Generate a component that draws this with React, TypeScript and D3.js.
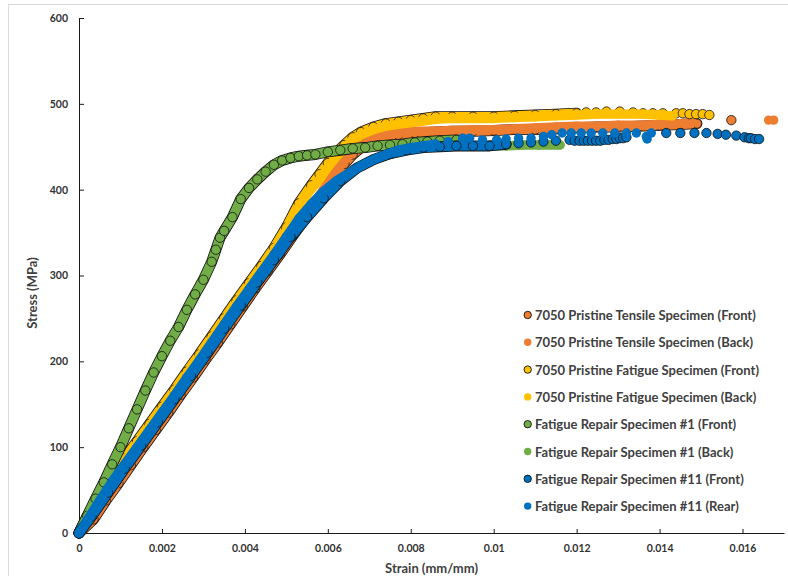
import React, { useRef, useEffect } from "react"
import * as d3 from "d3"

type Pt = [number, number]

// strain (mm/mm), stress (MPa)
const tensileFront: Pt[] = [[0,0],[0.00035,16],[0.00065,38],[0.00095,58],[0.00125,79],[0.00155,100],[0.00185,120],[0.00215,140],[0.00245,161],[0.00275,181],[0.00305,202],[0.00335,222],[0.00365,243],[0.00395,264],[0.00425,285],[0.00455,305],[0.00485,325],[0.00515,346],[0.00545,366],[0.00575,386],[0.006,404],[0.0062,418],[0.0064,430],[0.0066,441],[0.0068,449],[0.007,455],[0.0073,461],[0.0077,464],[0.0081,466],[0.0085,467],[0.009,468],[0.0095,468],[0.01,469],[0.0105,470],[0.011,470],[0.0115,471],[0.012,472],[0.0125,473],[0.013,473],[0.0135,474],[0.014,475],[0.0145,476],[0.0149,477]]
const tensileFrontDots: Pt[] = [[0.01573,481]]

const tensileBack: Pt[] = [[0,0],[0.0003,17],[0.0006,38],[0.0009,58],[0.0012,79],[0.0015,100],[0.0018,120],[0.0021,140],[0.0024,161],[0.0027,181],[0.003,202],[0.0033,222],[0.0036,243],[0.0039,264],[0.0042,285],[0.0045,305],[0.0048,325],[0.0051,346],[0.0054,366],[0.0057,386],[0.006,408],[0.0062,422],[0.0064,434],[0.0066,445],[0.0068,452],[0.007,458],[0.0073,463],[0.0077,466],[0.0081,468],[0.0085,468],[0.009,469],[0.0095,470],[0.01,470],[0.0105,471],[0.011,472],[0.0115,473],[0.012,474],[0.0125,474],[0.013,475],[0.0135,475],[0.014,476],[0.0145,477],[0.0148,478]]
const tensileBackDots: Pt[] = [[0.01663,481],[0.01675,481]]

const fatigueFront: Pt[] = [[0,0],[0.0002,20],[0.0005,44],[0.0008,66],[0.0011,87],[0.0014,107],[0.0017,127],[0.002,147],[0.0023,167],[0.0026,188],[0.0029,208],[0.0032,229],[0.0035,250],[0.0038,271],[0.0041,291],[0.0044,311],[0.0047,332],[0.005,356],[0.0053,384],[0.0056,405],[0.0058,418],[0.006,431],[0.0062,443],[0.0064,452],[0.0066,461],[0.0068,467],[0.0071,473],[0.0074,477],[0.0077,479],[0.008,481],[0.0083,483],[0.0086,485],[0.009,485],[0.0095,485],[0.01,485],[0.0105,486],[0.011,487],[0.0115,488],[0.012,489]]
const fatigueFrontDots: Pt[] = [[0.01223,490],[0.01247,490],[0.01272,491],[0.01304,491],[0.01336,490],[0.0136,489],[0.01384,489],[0.01408,489],[0.0144,489],[0.01456,489],[0.01472,488],[0.01488,488],[0.01504,488],[0.0152,487]]

const fatigueBack: Pt[] = [[0,0],[0.0002,18],[0.0005,42],[0.0008,64],[0.0011,84],[0.0014,104],[0.0017,124],[0.002,144],[0.0023,164],[0.0026,185],[0.0029,205],[0.0032,226],[0.0035,247],[0.0038,268],[0.0041,288],[0.0044,308],[0.0047,328],[0.005,352],[0.0053,380],[0.0056,401],[0.0058,412],[0.006,426],[0.0062,438],[0.0064,449],[0.0066,458],[0.0068,464],[0.0071,470],[0.0074,474],[0.0077,476],[0.008,478],[0.0083,480],[0.0086,482],[0.009,483],[0.0095,483],[0.01,483],[0.0105,484],[0.011,485],[0.0115,486],[0.012,487],[0.0125,488],[0.013,488],[0.0135,488],[0.014,487],[0.0143,486]]
const fatigueBackDots: Pt[] = []

const repair1Front: Pt[] = [[0,0],[0.0002,20],[0.0004,40],[0.0006,59],[0.0008,80],[0.001,100],[0.0012,122],[0.0014,144],[0.0016,166],[0.0018,187],[0.002,206],[0.0022,224],[0.0024,240],[0.0026,260],[0.0028,278],[0.003,295],[0.0032,316],[0.0033,330],[0.0034,344],[0.0035,352],[0.0037,368],[0.0039,389],[0.0041,402],[0.0043,412],[0.0045,421],[0.0047,429],[0.0049,434],[0.0051,437],[0.0053,439],[0.0055,440],[0.0057,441],[0.006,444],[0.0063,446],[0.0066,448],[0.0069,449],[0.0072,451],[0.0075,452],[0.0078,453],[0.0081,455],[0.0084,456],[0.0087,457],[0.0091,458]]
const repair1FrontDots: Pt[] = []

const repair1Back: Pt[] = [[0,0],[0.0003,24],[0.0007,51],[0.0011,78],[0.0015,105],[0.0019,132],[0.0023,159],[0.0027,186],[0.0031,213],[0.0035,240],[0.0039,267],[0.0043,294],[0.0047,320],[0.0051,348],[0.0055,375],[0.0059,396],[0.0063,412],[0.0067,425],[0.0071,435],[0.0075,441],[0.0079,446],[0.0083,449],[0.0087,450],[0.0091,451],[0.0095,451],[0.0099,451],[0.0103,451],[0.0107,452],[0.0111,452],[0.0116,452]]
const repair1BackDots: Pt[] = []

const repair11Front: Pt[] = [[0,0],[0.0003,19],[0.0007,47],[0.0011,75],[0.0015,102],[0.0019,129],[0.0023,156],[0.0027,183],[0.0031,210],[0.0035,238],[0.0039,265],[0.0043,292],[0.0047,318],[0.0051,345],[0.0055,368],[0.0059,390],[0.0063,410],[0.0067,425],[0.0071,435],[0.0075,442],[0.0079,446],[0.0083,449],[0.0087,450],[0.0091,451],[0.0095,451],[0.0099,451],[0.0103,453]]
const repair11FrontDots: Pt[] = [[0.0106,454],[0.0109,455],[0.0112,456],[0.0115,457],[0.01183,458],[0.01195,457],[0.01207,457],[0.01217,457],[0.01227,457],[0.01237,457],[0.01247,457],[0.01257,457],[0.01267,458],[0.01277,458],[0.01287,459],[0.01296,459],[0.01304,460],[0.01312,460],[0.0132,461],[0.01416,466],[0.0145,466],[0.01484,466],[0.01513,466],[0.0154,465],[0.0156,464],[0.01585,463],[0.01605,461],[0.01615,460],[0.0162,460],[0.0163,459],[0.0164,459]]

const repair11Rear: Pt[] = [[0,0],[0.0002,15],[0.0005,38],[0.0008,60],[0.0011,80],[0.0014,100],[0.0017,120],[0.002,140],[0.0023,160],[0.0026,181],[0.0029,201],[0.0032,222],[0.0035,243],[0.0038,264],[0.0041,284],[0.0044,304],[0.0047,324],[0.005,345],[0.0053,366],[0.0056,383],[0.0059,398],[0.0062,410],[0.0065,419],[0.0068,428],[0.0071,435],[0.0074,441],[0.0077,446],[0.008,449],[0.0083,451],[0.0086,453]]
const repair11RearDots: Pt[] = [[0.0089,456],[0.00925,460],[0.00942,460],[0.00973,458],[0.01007,458],[0.0103,459],[0.0106,460],[0.0109,460],[0.0112,462],[0.0114,464],[0.01165,466],[0.01187,466],[0.01211,466],[0.01235,466],[0.01263,466],[0.01292,466],[0.0132,466],[0.01344,466],[0.01368,462],[0.0138,466],[0.0137,459]]

const seriesNames = [
  "7050 Pristine Tensile Specimen (Front)",
  "7050 Pristine Tensile Specimen (Back)",
  "7050 Pristine Fatigue Specimen (Front)",
  "7050 Pristine Fatigue Specimen (Back)",
  "Fatigue Repair Specimen #1 (Front)",
  "Fatigue Repair Specimen #1 (Back)",
  "Fatigue Repair Specimen #11 (Front)",
  "Fatigue Repair Specimen #11 (Rear)",
]
const seriesColors = ["#ED7D31", "#ED7D31", "#FFC000", "#FFC000", "#70AD47", "#70AD47", "#0070C0", "#0070C0"]
const seriesOutlined = [true, false, true, false, true, false, true, false]
const seriesCurves = [tensileFront, tensileBack, fatigueFront, fatigueBack, repair1Front, repair1Back, repair11Front, repair11Rear]
const seriesDots = [tensileFrontDots, tensileBackDots, fatigueFrontDots, fatigueBackDots, repair1FrontDots, repair1BackDots, repair11FrontDots, repair11RearDots]

const xTicks = [0, 0.002, 0.004, 0.006, 0.008, 0.01, 0.012, 0.014, 0.016]
const xTickLabels = ["0", "0.002", "0.004", "0.006", "0.008", "0.01", "0.012", "0.014", "0.016"]
const yTicks = [0, 100, 200, 300, 400, 500, 600]

const W = 788
const H = 576
const FONT = "Lato, 'Open Sans', sans-serif"
const R = 4.7

const x = d3.scaleLinear().domain([0, 0.017]).range([79, 784])
const y = d3.scaleLinear().domain([0, 600]).range([533, 18])

const line = d3.line<Pt>().x(d => x(d[0])).y(d => y(d[1]))

const App: React.FC = () => {
  const xAxisRef = useRef<SVGGElement | null>(null)
  const yAxisRef = useRef<SVGGElement | null>(null)

  useEffect(() => {
    if (!xAxisRef.current || !yAxisRef.current) return

    const xAxis = d3.axisBottom(x)
      .tickValues(xTicks)
      .tickFormat((_d, i) => xTickLabels[i])
      .tickSizeInner(-4)
      .tickSizeOuter(0)
      .tickPadding(12)
    const yAxis = d3.axisLeft(y)
      .tickValues(yTicks)
      .tickFormat(d => String(d))
      .tickSizeInner(-5)
      .tickSizeOuter(0)
      .tickPadding(11)

    const gx = d3.select(xAxisRef.current).call(xAxis)
    const gy = d3.select(yAxisRef.current).call(yAxis)

    for (const g of [gx, gy]) {
      g.attr("font-family", FONT).attr("font-size", 10.5)
      g.select(".domain").attr("stroke", "#1a1a1a").attr("stroke-width", 1)
      g.selectAll(".tick line").attr("stroke", "#1a1a1a")
      g.selectAll(".tick text").attr("fill", "#333").attr("font-weight", 700)
    }
  }, [])

  return (
    <svg width={W} height={H} style={{ position: "absolute", left: 0, top: 0, background: "#fff" }}>
      <rect x={8.5} y={4.5} width={W + 10} height={H + 10} fill="#fff" stroke="#d9d9d9" />

      <g ref={xAxisRef} transform={`translate(0, ${y(0)})`} />
      <g ref={yAxisRef} transform={`translate(${x(0)}, 0)`} />

      <text x={(x(0) + x(0.017)) / 2} y={568} textAnchor="middle" dominantBaseline="central"
        fontFamily={FONT} fontSize={13} fontWeight={700} fill="#404040">Strain (mm/mm)</text>
      <text transform={`translate(32, 293) rotate(-90)`} textAnchor="middle" dominantBaseline="central"
        fontFamily={FONT} fontSize={13} fontWeight={700} fill="#404040">Stress (MPa)</text>

      {seriesCurves.map((pts, i) => {
        const color = seriesColors[i]
        const outlined = seriesOutlined[i]
        return (
          <g key={seriesNames[i]}>
            {outlined && (
              <path d={line(pts) ?? ""} fill="none" stroke="#111" strokeWidth={2 * R + 1.6}
                strokeLinecap="round" strokeLinejoin="round" />
            )}
            <path d={line(pts) ?? ""} fill="none" stroke={color} strokeWidth={2 * R}
              strokeLinecap="round" strokeLinejoin="round" />
            {pts.concat(seriesDots[i]).map((d, j) => (
              <circle key={j} cx={x(d[0])} cy={y(d[1])} r={R} fill={color}
                stroke={outlined ? "#111" : "none"} strokeWidth={outlined ? 0.8 : 0} />
            ))}
          </g>
        )
      })}

      {seriesNames.map((name, i) => {
        const ly = 315 + i * 27.3
        return (
          <g key={name}>
            <circle cx={527.7} cy={ly} r={3.7} fill={seriesColors[i]}
              stroke={seriesOutlined[i] ? "#111" : "none"} strokeWidth={seriesOutlined[i] ? 0.9 : 0} />
            <text x={535} y={ly} dominantBaseline="central" fontFamily={FONT} fontSize={13}
              fontWeight={700} fill="#404040">{name}</text>
          </g>
        )
      })}
    </svg>
  )
}

export default App
